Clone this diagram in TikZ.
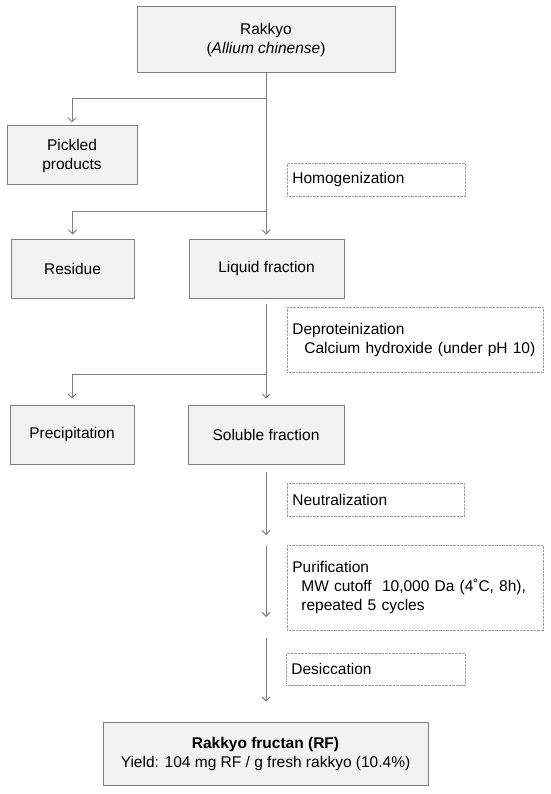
\documentclass[tikz,border=0pt]{standalone}
\usepackage{fontspec}
\setmainfont{Liberation Sans}
\usetikzlibrary{arrows.meta}
\definecolor{boxfill}{HTML}{F2F2F2}
\definecolor{edge}{HTML}{7F7F7F}
\definecolor{dotedge}{HTML}{9A9A9A}
\begin{document}
\begin{tikzpicture}[x=1pt,y=-1pt,
  font=\fontsize{15.5}{19}\selectfont,
  solidbox/.style={draw=edge, line width=1pt, fill=boxfill, inner sep=0pt, align=center},
  notebox/.style={draw=dotedge, line width=0.8pt, dash pattern=on 0.7pt off 0.7pt, inner xsep=5pt, inner ysep=0pt, anchor=north west, align=left},
  conn/.style={draw=edge, line width=1pt, -{Straight Barb[length=4pt,width=8pt]}}]
\useasboundingbox (0,0) rectangle (550,794);
% solid boxes
\node[solidbox, minimum width=258pt, minimum height=66pt] (top) at (266,40) {Rakkyo\\(\textit{Allium chinense})};
\node[solidbox, minimum width=130pt, minimum height=59pt] (pickled) at (72,155.5) {Pickled\\products};
\node[solidbox, minimum width=123pt, minimum height=59pt] (residue) at (72.5,268.5) {Residue};
\node[solidbox, minimum width=155pt, minimum height=59pt] (liquid) at (266.5,268.5) {Liquid fraction};
\node[solidbox, minimum width=124pt, minimum height=59pt] (precip) at (72,434.5) {Precipitation};
\node[solidbox, minimum width=156pt, minimum height=59pt] (soluble) at (266,434.5) {Soluble fraction};
\node[solidbox, minimum width=325pt, minimum height=63pt] (final) at (265.5,753.5) {\textbf{Rakkyo fructan (RF)}\\Yield: 104 mg RF / g fresh rakkyo (10.4\%)};
% dotted step boxes
\node[notebox, text width=168pt, minimum height=33pt] (homog) at (287,163) {Homogenization};
\node[notebox, text width=246pt, minimum height=65pt] (deprot) at (287,307) {Deproteinization\\\mbox{\hspace*{12pt}Calcium hydroxide (under pH 10)}};
\node[notebox, text width=167pt, minimum height=33pt] (neutral) at (287,483) {Neutralization};
\node[notebox, text width=246pt, minimum height=85pt] (purif) at (287,545) {Purification\\\mbox{\hspace*{9pt}MW cutoff\ \ 10,000 Da (4˚C, 8h),}\\\hspace*{9pt}repeated 5 cycles};
\node[notebox, text width=169pt, minimum height=32pt] (desic) at (286,653) {Desiccation};
% junctions
\coordinate (j1) at (266,99);
\coordinate (j2) at (266,212);
\coordinate (j3) at (266,374);
\coordinate (n1) at (266,472);
\coordinate (n2) at (266,535);
\coordinate (p1) at (266,546);
\coordinate (p2) at (266,617);
\coordinate (d1) at (266,638);
% connectors
\draw[conn] (top.south -| j1) -- ([yshift=4pt]liquid.north -| j1);
\draw[conn] (j1) -| ([yshift=3pt]pickled.north);
\draw[conn] (j2) -| ([yshift=4pt]residue.north);
\draw[conn] ([yshift=-5pt]liquid.south -| j3) -- ([yshift=6pt]soluble.north -| j3);
\draw[conn] (j3) -| ([yshift=6pt]precip.north);
\draw[conn] (n1) -- (n2);
\draw[conn] (p1) -- (p2);
\draw[conn] (d1) -- ([yshift=20pt]final.north -| d1);
\end{tikzpicture}
\end{document}
